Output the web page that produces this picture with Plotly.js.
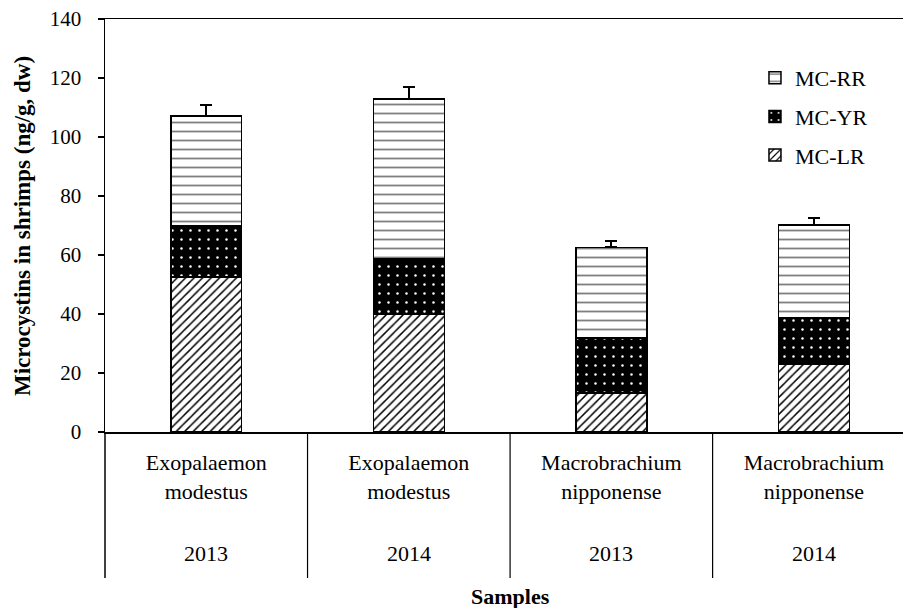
<!DOCTYPE html>
<html>
<head>
<meta charset="utf-8">
<script src="https://cdn.plot.ly/plotly-3.0.1.min.js"></script>
<style>html,body{margin:0;padding:0;background:#fff;overflow:hidden}#chart{width:903px;height:608px}</style>
</head>
<body>
<div id="chart"></div>
<script>
// ---- data ----
var species = ["Exopalaemon<br>modestus", "Exopalaemon<br>modestus", "Macrobrachium<br>nipponense", "Macrobrachium<br>nipponense"];
var years = ["2013", "2014", "2013", "2014"];
var mcLR = [52.6, 39.9, 13.3, 22.9];
var mcYR = [17.3, 18.7, 18.5, 16.0];
var mcRR = [37.3, 54.3, 30.8, 31.3];
var errTotal = [3.6, 3.9, 2.1, 2.2];
var yTicks = [0, 20, 40, 60, 80, 100, 120, 140];
var yTitle = "Microcystins in shrimps (ng/g, dw)";
var xTitle = "Samples";

var keys = species.map(function (s, i) { return s.replace("<br>", " ") + " " + years[i]; });
var zeros = keys.map(function () { return 0; });

var FONT = "Liberation Serif";
var lineStyle = { color: "#000", width: 1.5 };

var traces = [
  {
    type: "bar", name: "MC-LR", x: keys, y: mcLR, legendgroup: "lr", legendrank: 3,
    marker: { color: "#fff", line: lineStyle,
      pattern: { shape: "/", fgcolor: "#000", bgcolor: "#fff", size: 6, solidity: 0.25 } }
  },
  {
    type: "bar", name: "MC-YR", x: keys, y: mcYR, legendgroup: "yr", legendrank: 2,
    marker: { color: "#000", line: lineStyle,
      pattern: { shape: ".", fgcolor: "#fff", bgcolor: "#000", size: 9, solidity: 0.06 } }
  },
  {
    type: "bar", name: "MC-RR", x: keys, y: mcRR, legendgroup: "rr", legendrank: 1,
    marker: { color: "#fff", line: lineStyle,
      pattern: { shape: "-", fgcolor: "#000", bgcolor: "#fff", size: 9, solidity: 0.2, fgopacity: 0.5 } },
    error_y: { type: "data", symmetric: false, array: errTotal, arrayminus: zeros,
      color: "#000", thickness: 2, width: 6 }
  }
];

var shapes = [];
var annotations = [];
// left axis line continuing below the plot
shapes.push({ type: "line", xref: "paper", yref: "paper", x0: 0, x1: 0, y0: 0, y1: -0.3535,
  line: { color: "#000", width: 1.5 } });
for (var i = 1; i < keys.length; i++) {
  shapes.push({ type: "line", xref: "x", yref: "paper", x0: i - 0.5, x1: i - 0.5, y0: 0, y1: -0.3535,
    line: { color: "#000", width: 1.2 } });
}
years.forEach(function (yr, i) {
  annotations.push({ xref: "x", yref: "paper", x: i, y: -0.293, text: yr, showarrow: false,
    xanchor: "center", yanchor: "middle", font: { family: FONT, size: 22, color: "#000" } });
});
annotations.push({ xref: "x", yref: "paper", x: (keys.length - 1) / 2, y: -0.3995, text: "<b>" + xTitle + "</b>",
  showarrow: false, xanchor: "center", yanchor: "middle", font: { family: FONT, size: 22, color: "#000" } });
annotations.push({ xref: "paper", yref: "paper", x: -0.1034, y: 0.5, text: "<b>" + yTitle + "</b>",
  textangle: -90, showarrow: false, xanchor: "center", yanchor: "middle",
  font: { family: FONT, size: 23, color: "#000" } });

var layout = {
  width: 903, height: 608,
  margin: { l: 105, r: 0, t: 19, b: 176 },
  paper_bgcolor: "#fff", plot_bgcolor: "#fff",
  barmode: "stack", bargap: 0.65,
  font: { family: FONT, size: 22, color: "#000" },
  showlegend: true,
  legend: { x: 0.8145, y: 0.908, xanchor: "left", yanchor: "top", traceorder: "grouped",
    tracegroupgap: 7, font: { family: FONT, size: 22, color: "#000" }, bgcolor: "rgba(0,0,0,0)" },
  xaxis: {
    type: "category", range: [-0.5, 3.44], tickvals: keys, ticktext: species,
    ticks: "", showline: true, mirror: true, linecolor: "#000", linewidth: 1.5,
    showgrid: false, zeroline: false, fixedrange: true, ticklabelstandoff: 10,
    tickfont: { family: FONT, size: 22, color: "#000" }
  },
  yaxis: {
    range: [0, 140], tickvals: yTicks, ticks: "outside", ticklen: 6, tickwidth: 1.5, tickcolor: "#000",
    showline: true, linecolor: "#000", linewidth: 1.5, showgrid: false, zeroline: false,
    ticklabelstandoff: 12,
    tickfont: { family: FONT, size: 21, color: "#000" }
  },
  shapes: shapes,
  annotations: annotations
};

Plotly.newPlot("chart", traces, layout, { displayModeBar: false, staticPlot: true });
</script>
</body>
</html>
